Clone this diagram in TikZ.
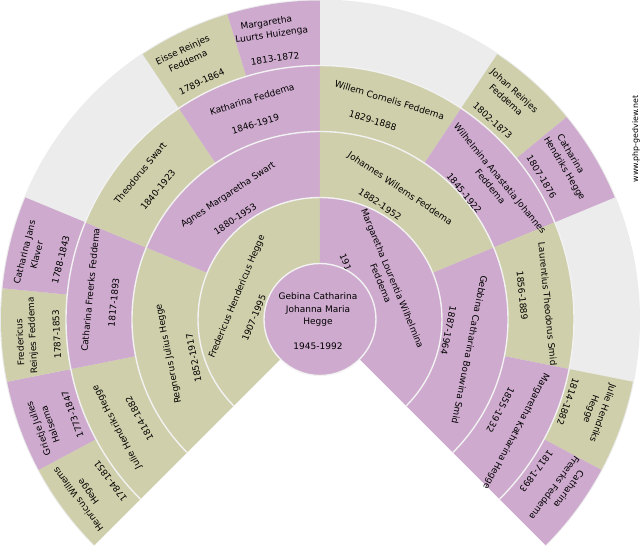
\documentclass[tikz,border=0pt]{standalone}
\usepackage{fontspec}
\setmainfont{DejaVu Sans}
\definecolor{fanolive}{HTML}{CFCFAB}
\definecolor{fanpurple}{HTML}{CEAACE}
\definecolor{fangrey}{HTML}{ECECEC}
\definecolor{fangap}{HTML}{F2F2F2}
\newcommand{\pad}[1]{\hspace*{#1pt}}
\tikzset{
  olivepart/.style={fill=fanolive},
  purplepart/.style={fill=fanpurple},
  greypart/.style={fill=fangrey},
  gaparc/.style={draw=fangap, line width=1.4pt},
  person/.style={align=center, inner sep=0pt, text depth=0pt, font=\fontsize{9}{12.5}\selectfont, text=black}
}
\begin{document}
\begin{tikzpicture}[x=1pt,y=1pt]
\useasboundingbox (-320,-230.5) rectangle (320,319.5);
% outer rim
\fill[greypart] (225:320) arc (225:-45:320) -- (0,0) -- cycle;
% fourth ring
\fill[olivepart] (225:254) arc (225:208.125:254) -- (208.125:319) arc (208.125:225:319) -- cycle;
\fill[purplepart] (208.125:254) arc (208.125:191.25:254) -- (191.25:319) arc (191.25:208.125:319) -- cycle;
\fill[olivepart] (191.25:254) arc (191.25:174.375:254) -- (174.375:319) arc (174.375:191.25:319) -- cycle;
\fill[purplepart] (174.375:254) arc (174.375:157.5:254) -- (157.5:319) arc (157.5:174.375:319) -- cycle;
\fill[olivepart] (123.75:254) arc (123.75:106.875:254) -- (106.875:319) arc (106.875:123.75:319) -- cycle;
\fill[purplepart] (106.875:254) arc (106.875:90:254) -- (90:319) arc (90:106.875:319) -- cycle;
\fill[olivepart] (56.25:254) arc (56.25:39.375:254) -- (39.375:319) arc (39.375:56.25:319) -- cycle;
\fill[purplepart] (39.375:254) arc (39.375:22.5:254) -- (22.5:319) arc (22.5:39.375:319) -- cycle;
\fill[olivepart] (-11.25:254) arc (-11.25:-28.125:254) -- (-28.125:319) arc (-28.125:-11.25:319) -- cycle;
\fill[purplepart] (-28.125:254) arc (-28.125:-45:254) -- (-45:319) arc (-45:-28.125:319) -- cycle;
% third ring
\fill[olivepart] (225:188) arc (225:191.25:188) -- (191.25:254) arc (191.25:225:254) -- cycle;
\fill[purplepart] (191.25:188) arc (191.25:157.5:188) -- (157.5:254) arc (157.5:191.25:254) -- cycle;
\fill[olivepart] (157.5:188) arc (157.5:123.75:188) -- (123.75:254) arc (123.75:157.5:254) -- cycle;
\fill[purplepart] (123.75:188) arc (123.75:90:188) -- (90:254) arc (90:123.75:254) -- cycle;
\fill[olivepart] (90:188) arc (90:56.25:188) -- (56.25:254) arc (56.25:90:254) -- cycle;
\fill[purplepart] (56.25:188) arc (56.25:22.5:188) -- (22.5:254) arc (22.5:56.25:254) -- cycle;
\fill[olivepart] (22.5:188) arc (22.5:-11.25:188) -- (-11.25:254) arc (-11.25:22.5:254) -- cycle;
\fill[purplepart] (-11.25:188) arc (-11.25:-45:188) -- (-45:254) arc (-45:-11.25:254) -- cycle;
% second ring
\fill[olivepart] (225:122) arc (225:157.5:122) -- (157.5:188) arc (157.5:225:188) -- cycle;
\fill[purplepart] (157.5:122) arc (157.5:90:122) -- (90:188) arc (90:157.5:188) -- cycle;
\fill[olivepart] (90:122) arc (90:22.5:122) -- (22.5:188) arc (22.5:90:188) -- cycle;
\fill[purplepart] (22.5:122) arc (22.5:-45:122) -- (-45:188) arc (-45:22.5:188) -- cycle;
% first ring
\fill[olivepart] (225:56) arc (225:90:56) -- (90:122) arc (90:225:122) -- cycle;
\fill[purplepart] (90:56) arc (90:-45:56) -- (-45:122) arc (-45:90:122) -- cycle;
% gaps between the rings
\draw[gaparc] (225:254) arc (225:-45:254);
\draw[gaparc] (225:188) arc (225:-45:188);
\draw[gaparc] (225:122) arc (225:-45:122);
% fourth ring names
\node[person, rotate=126.6] (pid16) at (-227.2,-169.2) {Henricus Willems\\Hegge\pad{18}\\[12pt]1784-1851\pad{9}};
\node[person, rotate=109.7] (pid17) at (-264.3,-103) {Grietje Julles\\Halsema\pad{4}\\[12pt]\pad{4}1773-1847};
\node[person, rotate=92.8] (pid18) at (-281.9,-15.7) {Fredericus\pad{12}\\Reinjes Feddema\\[12pt]1787-1853};
\node[person, rotate=75.9] (pid19) at (-277.7,63) {Catharina Jans\\Klaver\pad{14}\\[12pt]\pad{3}1788-1843};
\node[person, rotate=25.3] (pid22) at (-129.5,253.2) {Eisse Reinjes\\Feddema\\[12pt]\pad{7}1789-1864};
\node[person, rotate=8.4] (pid23) at (-47.6,279.3) {Margaretha\pad{7}\\Luurts Huizenga\\[12pt]1813-1872};
\node[person, rotate=-42.2] (pid26) at (182.2,215.3) {Johan Reinjes\\Feddema\\[12pt]\pad{8}1802-1873};
\node[person, rotate=-59.1] (pid27) at (239.8,148.3) {Catharina\pad{18}\\Hendriks Hegge\\[12pt]1807-1876\pad{9}};
\node[person, rotate=-109.7] (pid30) at (265.9,-87.6) {Julie Hendriks\\Hegge\pad{10}\\[12pt]\pad{2}1814-1882};
\node[person, rotate=-126.6] (pid31) at (229.8,-164.9) {Catharina\pad{15}\\Freerks Feddema\\[12pt]1817-1893\pad{5}};
% third ring names
\node[person, rotate=118.1] (pid8) at (-193,-102.1) {Julie Hendriks Hegge\\[12pt]1814-1882\pad{6}};
\node[person, rotate=84.4] (pid9) at (-217.6,28.5) {Catharina Freerks Feddema\\[12pt]1817-1893\pad{21}};
\node[person, rotate=50.6] (pid10) at (-170.3,139.1) {Theodorus Swart\\[12pt]1840-1923\pad{4}};
\node[person, rotate=16.9] (pid11) at (-64.4,208.5) {Katharina Feddema\\[12pt]1846-1919\pad{8}};
\node[person, rotate=-16.9] (pid12) at (66,208) {Willem Cornelis Feddema\\[12pt]1829-1888\pad{20}};
\node[person, rotate=-50.6] (pid13) at (165.9,129.2) {Wilhelmina Anastatia Johannes\\Feddema\pad{32}\\[12pt]1845-1922\pad{23}};
\node[person, rotate=-84.4] (pid14) at (215.6,14.3) {Laurentius Theodorus Smid\\[12pt]1856-1889\pad{22}};
\node[person, rotate=-118.1] (pid15) at (186,-106.5) {Margaretha Katharina Hegge\\[12pt]1855-1932\pad{23}};
% second ring names
\node[person, rotate=101.25] (pid4) at (-140.2,-32.1) {Regnerus Julius Hegge\\[12pt]1852-1917\pad{18}};
\node[person, rotate=33.75] (pid5) at (-85.5,115.1) {Agnes Margaretha Swart\\[12pt]1880-1953\pad{15}};
\node[person, rotate=-33.75] (pid6) at (73.5,121.1) {Johannes Willems Feddema\\[12pt]1882-1952\pad{16}};
\node[person, rotate=-101.25] (pid7) at (137.7,-28.1) {Gebbina Catharina Bouwina Smid\\[12pt]1887-1964\pad{30}};
% first ring names
\node[person, rotate=67.5] (pid2) at (-72.5,18.2) {Fredericus Hendericus Hegge\\[12pt]1907-1995\pad{26}};
\node[person, rotate=-67.5] (pid3) at (55.5,34) {Margaretha Lourentia Wilhelmina\\Feddema\pad{40}\\[12pt]191\pad{66}};
% centre
\fill[fanpurple, draw=fangap, line width=1.4pt] (0,0) circle (56);
\node[person] (pid1) at (-2,-1.8) {Gebina Catharina\\Johanna Maria\\Hegge\pad{13}\\[12pt]1945-1992};
\node[person, rotate=90, font=\fontsize{7.9}{10}\selectfont] (site) at (315,180.5) {www.php-gedview.net};
\end{tikzpicture}
\end{document}
